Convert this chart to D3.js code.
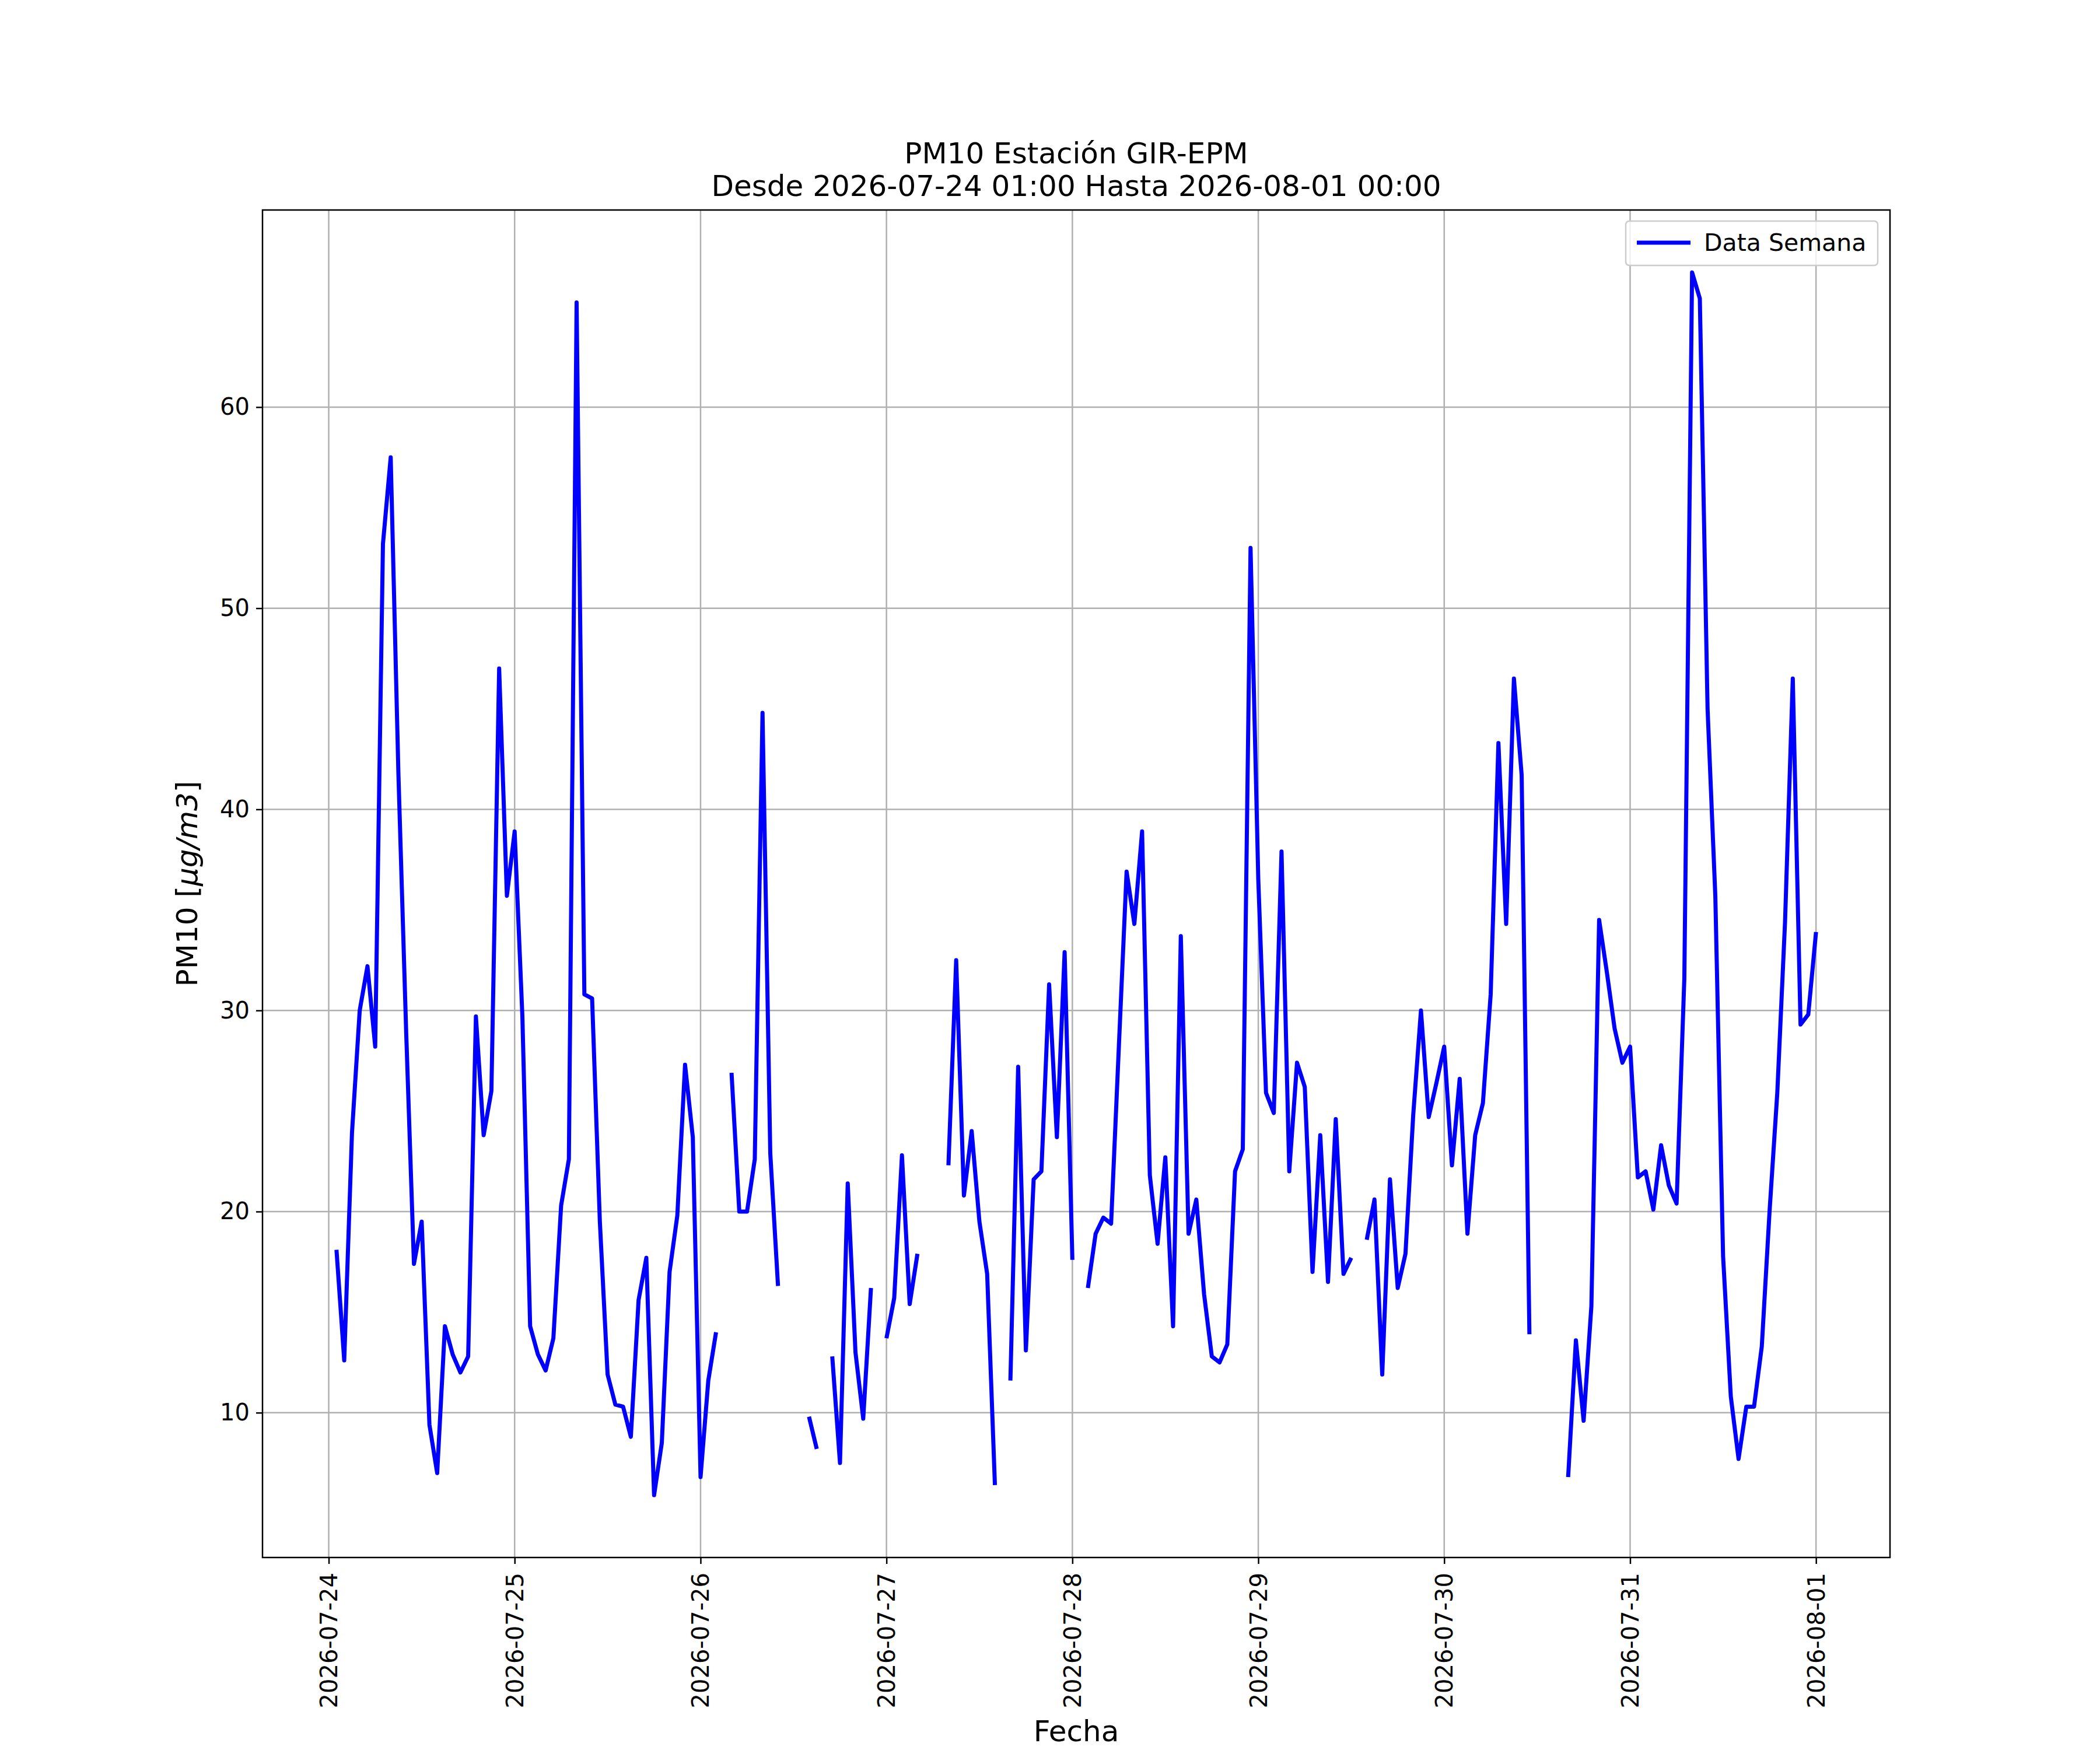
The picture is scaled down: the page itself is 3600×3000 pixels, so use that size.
<!DOCTYPE html>
<html><head><meta charset="utf-8">
<script src="https://cdn.jsdelivr.net/npm/d3@7"></script>
<style>body{margin:0;background:#fff}text{font-family:"DejaVu Sans",sans-serif}</style>
</head><body>
<svg id="c" width="3600" height="3000"></svg>
<script>
// Hourly PM10 values from 2026-07-24 01:00 to 2026-08-01 00:00 (null = missing)
const startTime = "2026-07-24T01:00:00";
const pm10 = [
 18.1,12.6,23.9,30,32.2,28.2,53.2,57.5,41.7,28.9,17.4,19.5,9.4,7,14.3,12.9,12,12.8,29.7,23.8,26,47,35.7,38.9,
 29.7,14.3,12.9,12.1,13.7,20.3,22.6,65.2,30.8,30.6,19.5,11.9,10.4,10.3,8.8,15.6,17.7,5.9,8.5,17,19.8,27.3,23.7,6.8,
 11.6,14,null,26.9,20,20,22.6,44.8,22.9,16.3,null,null,null,9.8,8.2,null,12.8,7.5,21.4,13,9.7,16.2,null,13.7,
 15.7,22.8,15.4,17.9,null,null,null,22.3,32.5,20.8,24,19.5,16.9,6.4,null,11.6,27.2,13.1,21.6,22,31.3,23.7,32.9,17.6,
 null,16.2,18.9,19.7,19.4,28.2,36.9,34.3,38.9,21.8,18.4,22.7,14.3,33.7,18.9,20.6,15.9,12.8,12.5,13.4,22,23.1,53,36.5,
 25.9,24.9,37.9,22,27.4,26.2,17,23.8,16.5,24.6,16.9,17.7,null,18.6,20.6,11.9,21.6,16.2,17.9,24.8,30,24.7,26.4,28.2,
 22.3,26.6,18.9,23.8,25.4,30.8,43.3,34.3,46.5,41.7,13.9,null,null,null,null,6.8,13.6,9.6,15.3,34.5,31.9,29.1,27.4,28.2,
 21.7,22,20.1,23.3,21.3,20.4,31.6,66.7,65.4,45,35.7,17.8,10.8,7.7,10.3,10.3,13.3,20,25.9,34.4,46.5,29.3,29.8,33.9
];
const dayTicks = ["2026-07-24","2026-07-25","2026-07-26","2026-07-27","2026-07-28","2026-07-29","2026-07-30","2026-07-31","2026-08-01"];
const yTicks = [10,20,30,40,50,60];
const titleLines = ["PM10 Estación GIR-EPM","Desde 2026-07-24 01:00 Hasta 2026-08-01 00:00"];
const seriesName = "Data Semana";

const t0 = new Date(startTime);
const data = pm10.map((v,i)=>({t:new Date(t0.getTime()+i*3600e3), v}));
const L=450,R=3240,T=360,B=2670;
const H=3600e3, t1=data[data.length-1].t;
const x = d3.scaleTime().domain([new Date(t0-9.55*H), new Date(+t1+9.55*H)]).range([L,R]);
const y = d3.scaleLinear().domain([2.8,69.8]).range([B,T]);
const svg = d3.select("#c");
const ticks = dayTicks.map(s=>new Date(s+"T00:00:00"));

svg.append("g").selectAll("line").data(ticks).join("line")
 .attr("x1",d=>x(d)).attr("x2",d=>x(d)).attr("y1",T).attr("y2",B).attr("stroke","#b0b0b0").attr("stroke-width",2.5);
svg.append("g").selectAll("line").data(yTicks).join("line")
 .attr("y1",d=>y(d)).attr("y2",d=>y(d)).attr("x1",L).attr("x2",R).attr("stroke","#b0b0b0").attr("stroke-width",2.5);

const line = d3.line().defined(d=>d.v!=null).x(d=>x(d.t)).y(d=>y(d.v));
svg.append("path").datum(data).attr("d",line).attr("fill","none").attr("stroke","#0000ff").attr("stroke-width",7).attr("stroke-linejoin","round");

const xa = svg.append("g").attr("transform",`translate(0,${B})`)
 .call(d3.axisBottom(x).tickValues(ticks).tickFormat(d3.timeFormat("%Y-%m-%d")).tickSize(11).tickSizeOuter(0));
xa.selectAll("text").attr("transform","rotate(-90)").attr("text-anchor","end").attr("dy","0.35em").attr("y",0).attr("x",-26).attr("font-size",40);
const ya = svg.append("g").attr("transform",`translate(${L},0)`)
 .call(d3.axisLeft(y).tickValues(yTicks).tickSize(11).tickSizeOuter(0));
ya.selectAll("text").attr("font-size",40).attr("x",-22);
svg.selectAll(".domain").remove();
svg.selectAll(".tick line").attr("stroke","#000").attr("stroke-width",2.5);
svg.selectAll(".tick text").attr("fill","#000").style("font-family","DejaVu Sans");
svg.append("rect").attr("x",L).attr("y",T).attr("width",R-L).attr("height",B-T).attr("fill","none").attr("stroke","#000").attr("stroke-width",2.5);

titleLines.forEach((s,i)=>svg.append("text").attr("x",(L+R)/2).attr("y",280+i*56).attr("text-anchor","middle").attr("font-size",50).text(s));
svg.append("text").attr("x",(L+R)/2).attr("y",2985).attr("text-anchor","middle").attr("font-size",50).text("Fecha");
const yl = svg.append("text").attr("transform",`translate(338,${(T+B)/2}) rotate(-90)`).attr("text-anchor","middle").attr("font-size",50);
yl.append("tspan").text("PM10 [");
yl.append("tspan").attr("font-style","italic").text("μg/m3");
yl.append("tspan").text("]");

const lg = svg.append("g");
lg.append("rect").attr("x",2787).attr("y",379).attr("width",432).attr("height",76).attr("rx",6).attr("fill","#fff").attr("fill-opacity",0.8).attr("stroke","#ccc").attr("stroke-width",2.5);
lg.append("line").attr("x1",2806).attr("x2",2898).attr("y1",416).attr("y2",416).attr("stroke","#0000ff").attr("stroke-width",7);
lg.append("text").attr("x",2921).attr("y",430).attr("font-size",41).text(seriesName);
</script></body></html>
